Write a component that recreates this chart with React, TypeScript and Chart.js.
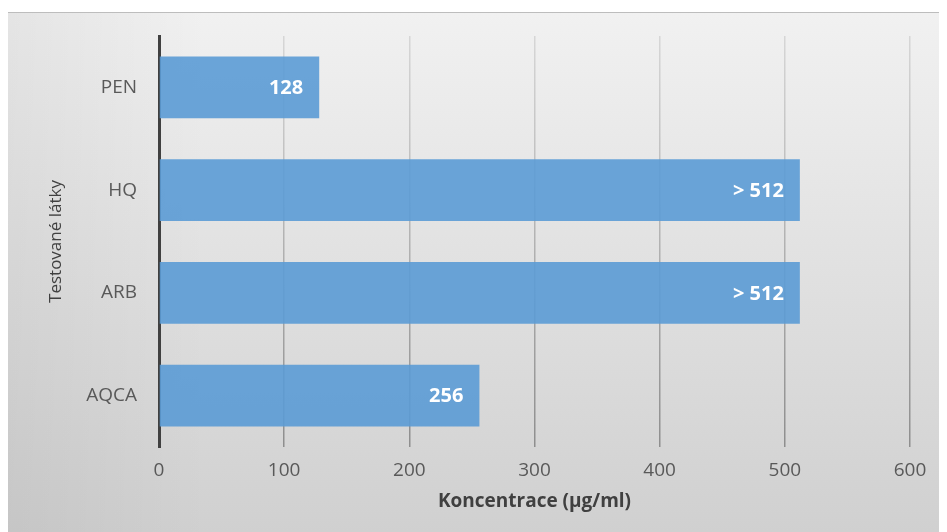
import React, { useEffect, useRef } from "react";
import { Chart, registerables } from "chart.js";

Chart.register(...registerables);

const categories = ["PEN", "HQ", "ARB", "AQCA"];
const values = [128, 512, 512, 256];
const valueLabels = ["128", "> 512", "> 512", "256"];
const xTicks = [0, 100, 200, 300, 400, 500, 600];

const FONT = "'Open Sans', 'Noto Sans', sans-serif";

const bgPlugin = {
  id: "bgGradient",
  beforeDraw(chart: any) {
    const { ctx, width, height } = chart;
    ctx.save();
    const g = ctx.createLinearGradient(0, 0, 0, height);
    g.addColorStop(0, "#f1f1f1");
    g.addColorStop(1, "#d0d0d0");
    ctx.fillStyle = g;
    ctx.fillRect(0, 0, width, height);
    const h = ctx.createLinearGradient(0, 0, 200, 0);
    h.addColorStop(0, "rgba(0,0,0,0.05)");
    h.addColorStop(1, "rgba(0,0,0,0)");
    ctx.fillStyle = h;
    ctx.fillRect(0, 0, 200, height);
    ctx.restore();
  },
};

const labelPlugin = {
  id: "barLabels",
  afterDatasetsDraw(chart: any) {
    const { ctx } = chart;
    const meta = chart.getDatasetMeta(0);
    ctx.save();
    ctx.fillStyle = "#ffffff";
    ctx.font = `bold 20px ${FONT}`;
    ctx.textAlign = "right";
    ctx.textBaseline = "middle";
    meta.data.forEach((bar: any, i: number) => {
      ctx.fillText(valueLabels[i], bar.x - 16, bar.y + 1);
    });
    ctx.restore();
  },
};

export default function App() {
  const ref = useRef<HTMLCanvasElement>(null);
  useEffect(() => {
    document.documentElement.style.overflow = "hidden";
    document.body.style.overflow = "hidden";
    const canvas = ref.current!;
    const chart = new Chart(canvas, {
      type: "bar",
      data: {
        labels: categories,
        datasets: [
          {
            data: values,
            backgroundColor: "rgba(91,155,213,0.9)",
            borderWidth: 0,
            barPercentage: 0.6,
            categoryPercentage: 1,
          },
        ],
      },
      options: {
        indexAxis: "y",
        responsive: false,
        animation: false,
        layout: { padding: { left: 0, right: 37, top: 23, bottom: 0 } },
        plugins: {
          legend: { display: false },
          tooltip: { enabled: false },
        },
        scales: {
          x: {
            type: "linear",
            min: 0,
            max: 600,
            afterFit(scale: any) {
              scale.height = 85;
            },
            afterBuildTicks(scale: any) {
              scale.ticks = xTicks.map((v) => ({ value: v }));
            },
            ticks: {
              color: "#595959",
              font: { family: FONT, size: 19 },
              padding: 12,
            },
            grid: {
              drawTicks: false,
              lineWidth: 1.5,
              color: (c: any) => {
                const chart = c.chart;
                const area = chart.chartArea;
                if (!area) return "#a6a6a6";
                const g = chart.ctx.createLinearGradient(0, area.top, 0, area.bottom);
                g.addColorStop(0, "#d6d6d6");
                g.addColorStop(1, "#8e8e8e");
                return g;
              },
            },
            border: { display: false },
            title: {
              display: true,
              text: "Koncentrace (µg/ml)",
              color: "#404040",
              font: { family: FONT, size: 19, weight: "bold" },
              padding: { top: 0, bottom: 19 },
            },
          },
          y: {
            afterFit(scale: any) {
              scale.width = 151;
              scale.paddingTop = 0;
              scale.paddingBottom = 0;
            },
            ticks: {
              color: "#595959",
              font: { family: FONT, size: 19 },
              padding: 22,
            },
            grid: { display: false, drawTicks: false },
            border: { display: true, color: "#404040", width: 3 },
            title: {
              display: true,
              text: "Testované látky",
              color: "#404040",
              font: { family: FONT, size: 17 },
              padding: { top: 38, bottom: 0 },
            },
          },
        },
      },
      plugins: [bgPlugin, labelPlugin],
    } as any);
    return () => chart.destroy();
  }, []);
  return (
    <div style={{ paddingTop: 4 }}>
      <div
        style={{
          width: 939,
          height: 520,
          borderTop: "1px solid #bdbdbd",
          boxSizing: "border-box",
        }}
      >
        <canvas ref={ref} width={939} height={519} style={{ display: "block" }} />
      </div>
    </div>
  );
}
